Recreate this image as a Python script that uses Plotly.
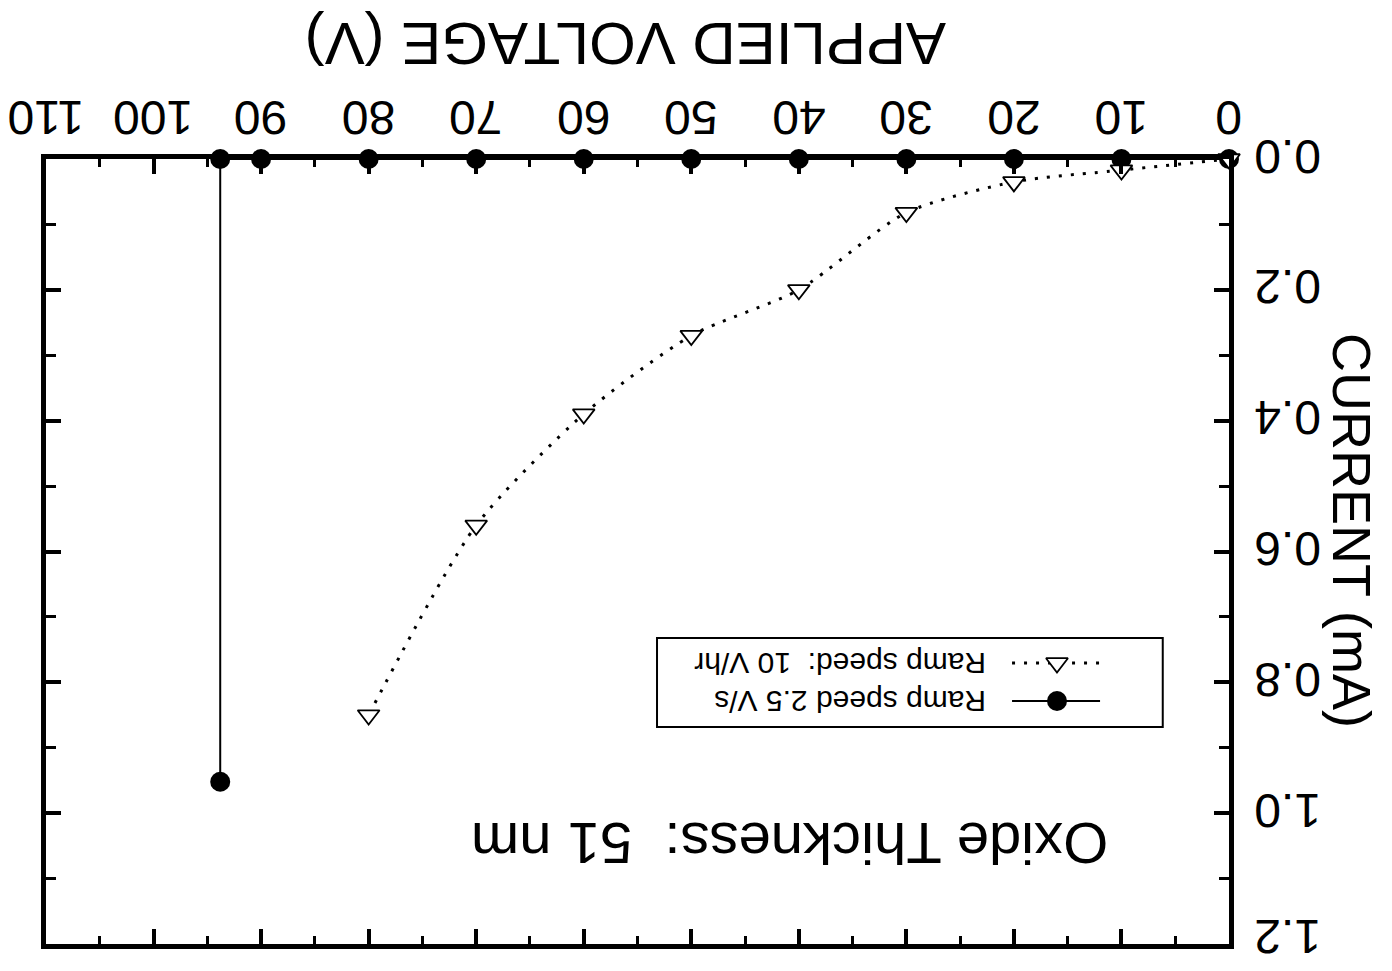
import plotly.graph_objects as go

# ---- data ----
volt_fast = [0, 10, 20, 30, 40, 50, 60, 70, 80, 90, 93.8, 93.8]
curr_fast = [0, 0, 0, 0, 0, 0, 0, 0, 0, 0, 0, 0.952]

volt_slow = [0, 10, 20, 30, 40, 50, 60, 70, 80]
curr_slow = [0, 0.017, 0.035, 0.082, 0.200, 0.270, 0.390, 0.560, 0.850]

x_ticks = [0, 10, 20, 30, 40, 50, 60, 70, 80, 90, 100, 110]
x_tick_text = ["0", "10", "20", "30", "40", "50", "60", "70", "80", "90", "100", "110"]
y_ticks = [0.0, 0.2, 0.4, 0.6, 0.8, 1.0, 1.2]
y_tick_text = ["0.0", "0.2", "0.4", "0.6", "0.8", "1.0", "1.2"]

label_fast = "Ramp speed 2.5 V/s"
label_slow = "Ramp speed:\u00a0\u00a010 V/hr"
note_text = "Oxide Thickness:\u00a0\u00a051 nm"
x_title = "APPLIED VOLTAGE (V)"
y_title = "CURRENT (mA)"

FONT = "Liberation Sans, Arial, sans-serif"

tri_marker = dict(symbol="triangle-down", size=19, color="white",
                  line=dict(width=1.8, color="black"))
dot_marker = dict(symbol="circle", size=20, color="black")

fig = go.Figure()

fig.add_trace(go.Scatter(
    x=volt_fast, y=curr_fast, mode="lines+markers",
    line=dict(color="black", width=2),
    marker=dot_marker, cliponaxis=False, showlegend=False))

fig.add_trace(go.Scatter(
    x=volt_slow, y=curr_slow, mode="lines+markers",
    line=dict(color="black", width=3, dash="3px,9px", shape="spline", smoothing=0.7),
    marker=tri_marker, cliponaxis=False, showlegend=False))

# legend samples on an overlay axis in 0..1 units
leg_x_line = [0.8166, 0.891]
leg_x_mark = [0.8546]
row_slow_y = 0.358
row_fast_y = 0.3096

fig.add_trace(go.Scatter(
    x=leg_x_line, y=[row_fast_y, row_fast_y], mode="lines",
    line=dict(color="black", width=2), xaxis="x2", yaxis="y2", showlegend=False))
fig.add_trace(go.Scatter(
    x=leg_x_mark, y=[row_fast_y], mode="markers", marker=dot_marker,
    xaxis="x2", yaxis="y2", showlegend=False))
fig.add_trace(go.Scatter(
    x=leg_x_line, y=[row_slow_y, row_slow_y], mode="lines",
    line=dict(color="black", width=3, dash="3px,9px"), xaxis="x2", yaxis="y2", showlegend=False))
fig.add_trace(go.Scatter(
    x=leg_x_mark, y=[row_slow_y], mode="markers", marker=tri_marker,
    xaxis="x2", yaxis="y2", showlegend=False))

fig.update_layout(
    width=1376, height=955,
    margin=dict(l=38, r=155, t=151, b=19),
    paper_bgcolor="white", plot_bgcolor="white",
    font=dict(family=FONT, color="black"),
    showlegend=False,
    xaxis=dict(
        range=[110, 0], side="top",
        tickmode="array", tickvals=x_ticks, showticklabels=False,
        ticks="inside", ticklen=15, tickwidth=4, tickcolor="black",
        minor=dict(dtick=5, tick0=0, ticks="inside", ticklen=8, tickwidth=3, tickcolor="black"),
        showline=True, linewidth=5, linecolor="black", mirror="ticks",
        showgrid=False, zeroline=False,
    ),
    yaxis=dict(
        range=[1.2, 0], side="right",
        tickmode="array", tickvals=y_ticks, showticklabels=False,
        ticks="inside", ticklen=15, tickwidth=4, tickcolor="black",
        minor=dict(dtick=0.1, tick0=0, ticks="inside", ticklen=10, tickwidth=3, tickcolor="black"),
        showline=True, linewidth=5, linecolor="black", mirror="ticks",
        showgrid=False, zeroline=False,
    ),
    xaxis2=dict(overlaying="x", range=[0, 1], visible=False, domain=[0, 1]),
    yaxis2=dict(overlaying="y", range=[0, 1], visible=False, domain=[0, 1]),
    shapes=[dict(type="rect", xref="paper", yref="paper",
                 x0=0.5165, x1=0.944, y0=0.2764, y1=0.3898,
                 line=dict(color="black", width=2), fillcolor="rgba(0,0,0,0)")],
)

ann = []
# tick labels (upside down), placed on the data scales
for v, t in zip(x_ticks, x_tick_text):
    ann.append(dict(text=t, x=v, y=1.0522, xref="x", yref="paper",
                    xanchor="center", yanchor="middle", textangle=180, showarrow=False,
                    font=dict(size=48, family=FONT)))
for v, t in zip(y_ticks, y_tick_text):
    shift = 8 if v == max(y_ticks) else 3  # keep the last label inside the page
    ann.append(dict(text=t, x=1.049, y=v, xref="paper", yref="y", yshift=shift, height=50,
                    xanchor="center", yanchor="middle", textangle=180, showarrow=False,
                    font=dict(size=48, family=FONT)))
ann.append(dict(text=label_fast, x=0.7963, y=row_fast_y, xref="paper", yref="paper",
                xanchor="right", yanchor="middle", textangle=180, showarrow=False,
                font=dict(size=30, family=FONT)))
ann.append(dict(text=label_slow, x=0.7963, y=row_slow_y, xref="paper", yref="paper",
                xanchor="right", yanchor="middle", textangle=180, showarrow=False,
                font=dict(size=30, family=FONT)))
ann.append(dict(text=note_text, x=0.629, y=0.1287, xref="paper", yref="paper",
                xanchor="center", yanchor="middle", textangle=180, showarrow=False,
                font=dict(size=58, family=FONT)))
ann.append(dict(text=x_title, x=0.4894, y=1.147, xref="paper", yref="paper",
                xanchor="center", yanchor="middle", textangle=180, showarrow=False,
                font=dict(size=60, family=FONT)))
ann.append(dict(text=y_title, x=1.104, y=0.5274, xref="paper", yref="paper",
                xanchor="center", yanchor="middle", textangle=90, showarrow=False,
                font=dict(size=54, family=FONT)))
fig.update_layout(annotations=ann)

fig.write_html("out.html")
